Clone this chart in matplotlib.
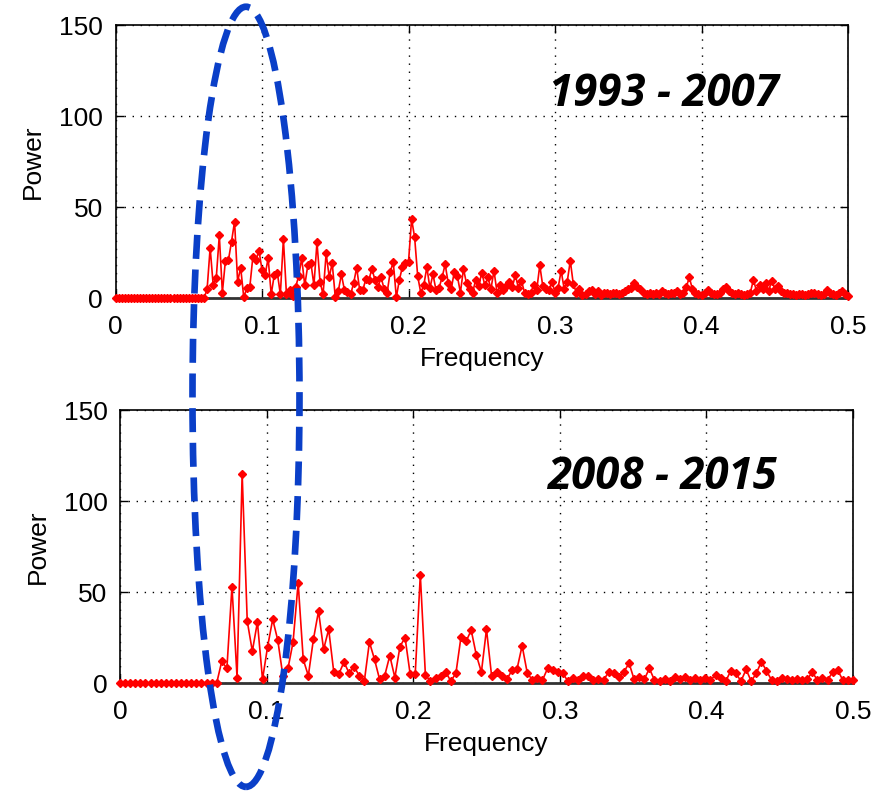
import numpy as np
import matplotlib
matplotlib.use("Agg")
import matplotlib.pyplot as plt
from matplotlib.patches import Ellipse

# ---------------- data ----------------
top_label = "1993 - 2007"
bottom_label = "2008 - 2015"
x_ticks = [0, 0.1, 0.2, 0.3, 0.4, 0.5]
x_ticklabels = ["0", "0.1", "0.2", "0.3", "0.4", "0.5"]
y_ticks = [0, 50, 100, 150]
y_ticklabels = ["0", "50", "100", "150"]

top_power_low = [0, 0, 0, 0, 0, 0, 0, 0, 0, 0, 0, 0, 0, 0, 0, 0, 0, 0, 0, 0,
                 0, 0, 0, 0, 0, 0, 0, 0, 0, 0]
top_power_a = [4.8, 27.6, 7, 11, 34.4, 3, 20.5, 21, 31, 42, 9, 16.7, 0.5, 5.3, 6.2,
               22.7, 21, 26, 15.4, 12.6, 22, 2, 12.6, 14, 2, 32.4, 2, 4.4, 1, 6,
               12, 21.8, 7, 18, 19.4, 7, 30.6, 9, 2, 24.5, 11.7, 19, 0.5, 4, 13,
               4.4, 3.5, 2, 8, 16.7, 4.4, 4.4, 10.2, 10, 16]
top_power_b = [10, 6, 11.4, 5, 3, 14.5, 19.6, 0.5, 10, 17.2, 19, 20, 43.4, 33.3, 12,
               3, 7, 17, 5.5, 13, 4.4, 5.5, 11.4, 18.5, 8.3, 5, 14.5, 12, 3,
               16, 8, 5, 3, 10, 6.6, 14, 7, 11.4, 5, 15, 3, 7, 4.4, 6.6,
               9, 6, 12.6, 5.5, 9.5, 3, 2, 3, 7, 4.4, 18, 6.4, 5, 4.4,
               9, 3, 5.5, 15, 5, 9, 20.5, 7.5, 3, 5, 1.5, 2, 3.6, 4.4, 2,
               3.6, 1.5]
top_power_c = [2.5, 3, 2, 3, 2.5, 2,
               3, 4, 5, 5.5, 8.4, 6, 5,
               3, 2, 2.5, 2, 3, 2, 4, 2.5, 2, 3, 2.5, 4, 2, 3,
               6, 11.3, 5, 3,
               2, 1.5, 3, 4.5, 3, 2, 2, 3, 5, 6, 4, 3, 2, 2.5, 2, 1.5, 2,
               3, 10, 4, 7, 5, 8, 4, 9.5, 5, 6.5, 4,
               3, 2.5, 2, 2, 1.5, 2, 2, 1.5, 2, 2.5, 3, 2, 1.5, 2, 4.4, 3, 2,
               1.5, 3, 4, 2, 1]

bottom_power = [0, 0, 0, 0, 0, 0, 0, 0, 0, 0, 0, 0, 0, 0, 0, 0, 0, 0, 0, 0,
                12, 8, 53, 3, 115, 34, 17.5, 33.5, 2, 20,
                35, 23.5, 4, 8, 22.5, 55, 13, 4, 24, 39.5,
                18.5, 29.5, 6, 5, 11.5, 5.5, 9, 4, 1, 22.5,
                13, 2, 4, 15, 3, 20, 25, 5, 5, 59.5,
                4.4, 1, 3, 4, 6, 1, 5.5, 25.5, 23, 29,
                15.4, 6, 29.5, 4, 6, 4, 2, 7, 7.7, 20.5,
                5.7, 1.6, 2.5, 1.6, 8, 7, 6, 5.3, 1, 3,
                1.6, 4, 4, 1.6, 2, 1.6, 6, 5.3, 3.5, 6,
                11, 2, 3.5, 2, 8, 1.6, 1, 2, 1, 3.5,
                2, 3.5, 1.6, 2.5, 1.6, 3, 1.6, 4.4, 3, 1,
                6.8, 5.3, 1, 7.5, 1, 5.3, 11.7, 6.8, 1.6, 1,
                3, 2, 1.6, 2, 1.6, 2, 6, 1.6, 3, 1.6,
                6, 7, 1.6, 1.6, 1.6]

top_power = top_power_low + top_power_a + top_power_b + top_power_c
top_freq = np.linspace(0, 0.5, len(top_power))
bottom_freq = np.linspace(0, 0.5, len(bottom_power))

# ---------------- figure ----------------
plt.rcParams['font.family'] = ['Liberation Sans', 'DejaVu Sans']
fig = plt.figure(figsize=(8.72, 7.92), dpi=100)

ax_top = fig.add_axes([0.1325, 0.6237, 0.8400, 0.3447])
ax_bot = fig.add_axes([0.1376, 0.1376, 0.8406, 0.3447])


def style(ax, freq, power, label, lx, ly):
    ax.plot(freq, power, color='#ff0000', lw=1.2, marker='D', ms=4.2,
            mec='#ff0000', mfc='#ff0000', zorder=3, clip_on=False)
    ax.set_xlim(0, 0.5)
    ax.set_ylim(0, 150)
    ax.set_xticks(x_ticks)
    ax.set_xticklabels(x_ticklabels)
    ax.set_yticks(y_ticks)
    ax.set_yticklabels(y_ticklabels)
    ax.tick_params(direction='in', length=6, width=1, labelsize=19,
                   top=True, right=True)
    ax.tick_params(axis='x', pad=12)
    ax.tick_params(axis='y', pad=9)
    ax.grid(True, linestyle=(0, (1, 4.8)), color='black', lw=1.0)
    for s in ax.spines.values():
        s.set_linewidth(1.2)
    ax.spines['bottom'].set_linewidth(2.0)
    ax.spines['bottom'].set_color('#333333')
    ax.set_xlabel('Frequency', fontsize=19, labelpad=6)
    ax.set_ylabel('Power', fontsize=19, labelpad=10)
    ax.text(lx, ly, label, fontsize=31.5, fontweight='bold', fontstyle='italic',
            family=['Open Sans', 'DejaVu Sans'], ha='center', va='center',
            zorder=5)


style(ax_top, top_freq, top_power, top_label, 0.3744, 112)
style(ax_bot, bottom_freq, bottom_power, bottom_label, 0.3697, 113)

ell = Ellipse((0.2821, 0.499), 0.1227, 0.985, transform=fig.transFigure,
              fill=False, edgecolor='#0a3fc8', lw=4.8, linestyle=(0, (3.6, 1.6)),
              zorder=10)
fig.add_artist(ell)

fig.savefig('out.png', dpi=100)
